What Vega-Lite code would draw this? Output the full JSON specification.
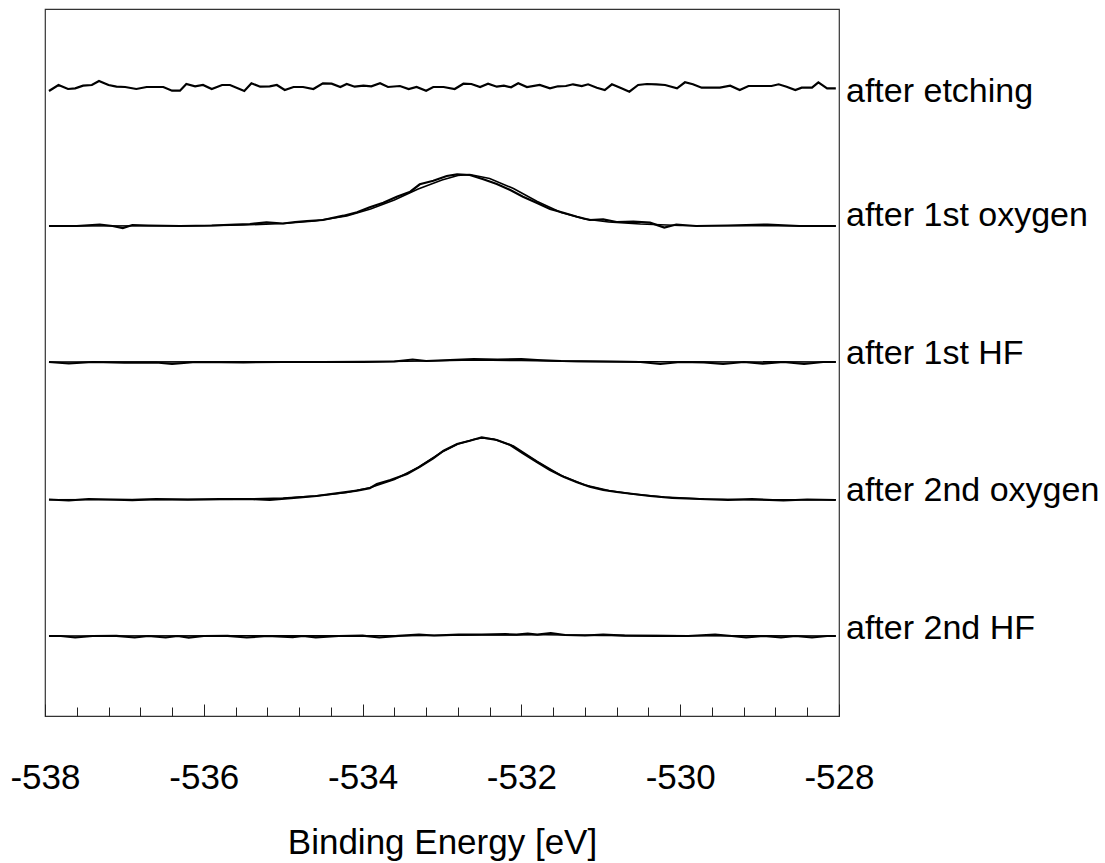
{
  "$schema": "https://vega.github.io/schema/vega-lite/v6.json",
  "width": 794,
  "height": 707,
  "autosize": {"type": "none"},
  "padding": {"left": 45, "top": 9, "right": 266, "bottom": 147},
  "background": "#ffffff",
  "config": {"view": {"stroke": "#333333", "strokeWidth": 1.2}, "font": "Liberation Sans"},
  "datasets": {
    "traces": [
      {"sample":"after etching","kind":"data","energy":-537.95,"intensity":625},
      {"sample":"after etching","kind":"data","energy":-537.83,"intensity":631},
      {"sample":"after etching","kind":"data","energy":-537.71,"intensity":627},
      {"sample":"after etching","kind":"data","energy":-537.62,"intensity":627.7},
      {"sample":"after etching","kind":"data","energy":-537.52,"intensity":630.3},
      {"sample":"after etching","kind":"data","energy":-537.41,"intensity":631},
      {"sample":"after etching","kind":"data","energy":-537.32,"intensity":635},
      {"sample":"after etching","kind":"data","energy":-537.2,"intensity":631},
      {"sample":"after etching","kind":"data","energy":-537.1,"intensity":629.3},
      {"sample":"after etching","kind":"data","energy":-536.99,"intensity":629},
      {"sample":"after etching","kind":"data","energy":-536.85,"intensity":627},
      {"sample":"after etching","kind":"data","energy":-536.72,"intensity":629},
      {"sample":"after etching","kind":"data","energy":-536.51,"intensity":629},
      {"sample":"after etching","kind":"data","energy":-536.4,"intensity":625.3},
      {"sample":"after etching","kind":"data","energy":-536.3,"intensity":625.3},
      {"sample":"after etching","kind":"data","energy":-536.22,"intensity":632},
      {"sample":"after etching","kind":"data","energy":-536.11,"intensity":629.7},
      {"sample":"after etching","kind":"data","energy":-536.01,"intensity":631},
      {"sample":"after etching","kind":"data","energy":-535.9,"intensity":627},
      {"sample":"after etching","kind":"data","energy":-535.77,"intensity":631},
      {"sample":"after etching","kind":"data","energy":-535.67,"intensity":631},
      {"sample":"after etching","kind":"data","energy":-535.49,"intensity":625},
      {"sample":"after etching","kind":"data","energy":-535.4,"intensity":632.7},
      {"sample":"after etching","kind":"data","energy":-535.29,"intensity":629.3},
      {"sample":"after etching","kind":"data","energy":-535.17,"intensity":629.7},
      {"sample":"after etching","kind":"data","energy":-535.08,"intensity":631},
      {"sample":"after etching","kind":"data","energy":-534.98,"intensity":626},
      {"sample":"after etching","kind":"data","energy":-534.87,"intensity":629},
      {"sample":"after etching","kind":"data","energy":-534.75,"intensity":629},
      {"sample":"after etching","kind":"data","energy":-534.62,"intensity":627},
      {"sample":"after etching","kind":"data","energy":-534.5,"intensity":632.7},
      {"sample":"after etching","kind":"data","energy":-534.39,"intensity":632.3},
      {"sample":"after etching","kind":"data","energy":-534.28,"intensity":629},
      {"sample":"after etching","kind":"data","energy":-534.2,"intensity":632},
      {"sample":"after etching","kind":"data","energy":-534.1,"intensity":629.3},
      {"sample":"after etching","kind":"data","energy":-533.99,"intensity":630.3},
      {"sample":"after etching","kind":"data","energy":-533.89,"intensity":629.7},
      {"sample":"after etching","kind":"data","energy":-533.78,"intensity":632.7},
      {"sample":"after etching","kind":"data","energy":-533.68,"intensity":629},
      {"sample":"after etching","kind":"data","energy":-533.53,"intensity":630},
      {"sample":"after etching","kind":"data","energy":-533.42,"intensity":627},
      {"sample":"after etching","kind":"data","energy":-533.32,"intensity":629},
      {"sample":"after etching","kind":"data","energy":-533.2,"intensity":625.3},
      {"sample":"after etching","kind":"data","energy":-533.11,"intensity":629},
      {"sample":"after etching","kind":"data","energy":-532.98,"intensity":629},
      {"sample":"after etching","kind":"data","energy":-532.84,"intensity":627},
      {"sample":"after etching","kind":"data","energy":-532.73,"intensity":632.3},
      {"sample":"after etching","kind":"data","energy":-532.63,"intensity":632},
      {"sample":"after etching","kind":"data","energy":-532.52,"intensity":629},
      {"sample":"after etching","kind":"data","energy":-532.42,"intensity":632.3},
      {"sample":"after etching","kind":"data","energy":-532.31,"intensity":629.3},
      {"sample":"after etching","kind":"data","energy":-532.22,"intensity":630.3},
      {"sample":"after etching","kind":"data","energy":-532.13,"intensity":628.7},
      {"sample":"after etching","kind":"data","energy":-532.04,"intensity":632.7},
      {"sample":"after etching","kind":"data","energy":-531.93,"intensity":629},
      {"sample":"after etching","kind":"data","energy":-531.77,"intensity":631},
      {"sample":"after etching","kind":"data","energy":-531.64,"intensity":627.7},
      {"sample":"after etching","kind":"data","energy":-531.54,"intensity":629.7},
      {"sample":"after etching","kind":"data","energy":-531.44,"intensity":630},
      {"sample":"after etching","kind":"data","energy":-531.35,"intensity":631.7},
      {"sample":"after etching","kind":"data","energy":-531.24,"intensity":630},
      {"sample":"after etching","kind":"data","energy":-531.16,"intensity":631.7},
      {"sample":"after etching","kind":"data","energy":-531.05,"intensity":628.3},
      {"sample":"after etching","kind":"data","energy":-530.95,"intensity":626},
      {"sample":"after etching","kind":"data","energy":-530.86,"intensity":631.7},
      {"sample":"after etching","kind":"data","energy":-530.74,"intensity":627.7},
      {"sample":"after etching","kind":"data","energy":-530.64,"intensity":624.3},
      {"sample":"after etching","kind":"data","energy":-530.53,"intensity":631},
      {"sample":"after etching","kind":"data","energy":-530.42,"intensity":632},
      {"sample":"after etching","kind":"data","energy":-530.3,"intensity":631.7},
      {"sample":"after etching","kind":"data","energy":-530.19,"intensity":631},
      {"sample":"after etching","kind":"data","energy":-530.04,"intensity":627.7},
      {"sample":"after etching","kind":"data","energy":-529.94,"intensity":633.7},
      {"sample":"after etching","kind":"data","energy":-529.84,"intensity":631.7},
      {"sample":"after etching","kind":"data","energy":-529.73,"intensity":628.3},
      {"sample":"after etching","kind":"data","energy":-529.5,"intensity":628.3},
      {"sample":"after etching","kind":"data","energy":-529.37,"intensity":630.3},
      {"sample":"after etching","kind":"data","energy":-529.25,"intensity":626},
      {"sample":"after etching","kind":"data","energy":-529.14,"intensity":630},
      {"sample":"after etching","kind":"data","energy":-528.85,"intensity":630},
      {"sample":"after etching","kind":"data","energy":-528.76,"intensity":631.7},
      {"sample":"after etching","kind":"data","energy":-528.66,"intensity":629.3},
      {"sample":"after etching","kind":"data","energy":-528.55,"intensity":626},
      {"sample":"after etching","kind":"data","energy":-528.47,"intensity":628.3},
      {"sample":"after etching","kind":"data","energy":-528.34,"intensity":628.3},
      {"sample":"after etching","kind":"data","energy":-528.26,"intensity":633.7},
      {"sample":"after etching","kind":"data","energy":-528.15,"intensity":627.7},
      {"sample":"after etching","kind":"data","energy":-528.04,"intensity":627.7},

      {"sample":"after 1st oxygen","kind":"data","energy":-537.95,"intensity":490},
      {"sample":"after 1st oxygen","kind":"data","energy":-537.6,"intensity":490},
      {"sample":"after 1st oxygen","kind":"data","energy":-537.31,"intensity":491.5},
      {"sample":"after 1st oxygen","kind":"data","energy":-537.15,"intensity":490},
      {"sample":"after 1st oxygen","kind":"data","energy":-537.02,"intensity":488},
      {"sample":"after 1st oxygen","kind":"data","energy":-536.9,"intensity":491},
      {"sample":"after 1st oxygen","kind":"data","energy":-536.7,"intensity":490.5},
      {"sample":"after 1st oxygen","kind":"data","energy":-536.3,"intensity":490},
      {"sample":"after 1st oxygen","kind":"data","energy":-535.9,"intensity":490.5},
      {"sample":"after 1st oxygen","kind":"data","energy":-535.6,"intensity":491.5},
      {"sample":"after 1st oxygen","kind":"data","energy":-535.42,"intensity":492},
      {"sample":"after 1st oxygen","kind":"data","energy":-535.21,"intensity":493.7},
      {"sample":"after 1st oxygen","kind":"data","energy":-535.0,"intensity":492.5},
      {"sample":"after 1st oxygen","kind":"data","energy":-534.85,"intensity":494},
      {"sample":"after 1st oxygen","kind":"data","energy":-534.7,"intensity":495},
      {"sample":"after 1st oxygen","kind":"data","energy":-534.5,"intensity":496},
      {"sample":"after 1st oxygen","kind":"data","energy":-534.24,"intensity":500.3},
      {"sample":"after 1st oxygen","kind":"data","energy":-534.07,"intensity":503.7},
      {"sample":"after 1st oxygen","kind":"data","energy":-533.91,"intensity":508.7},
      {"sample":"after 1st oxygen","kind":"data","energy":-533.74,"intensity":513.3},
      {"sample":"after 1st oxygen","kind":"data","energy":-533.57,"intensity":519.3},
      {"sample":"after 1st oxygen","kind":"data","energy":-533.4,"intensity":524.3},
      {"sample":"after 1st oxygen","kind":"data","energy":-533.28,"intensity":531.7},
      {"sample":"after 1st oxygen","kind":"data","energy":-533.11,"intensity":535.3},
      {"sample":"after 1st oxygen","kind":"data","energy":-532.94,"intensity":540},
      {"sample":"after 1st oxygen","kind":"data","energy":-532.81,"intensity":541.7},
      {"sample":"after 1st oxygen","kind":"data","energy":-532.65,"intensity":541},
      {"sample":"after 1st oxygen","kind":"data","energy":-532.48,"intensity":536.7},
      {"sample":"after 1st oxygen","kind":"data","energy":-532.31,"intensity":532},
      {"sample":"after 1st oxygen","kind":"data","energy":-532.14,"intensity":526},
      {"sample":"after 1st oxygen","kind":"data","energy":-531.98,"intensity":519.3},
      {"sample":"after 1st oxygen","kind":"data","energy":-531.81,"intensity":513.3},
      {"sample":"after 1st oxygen","kind":"data","energy":-531.64,"intensity":507},
      {"sample":"after 1st oxygen","kind":"data","energy":-531.47,"intensity":503.3},
      {"sample":"after 1st oxygen","kind":"data","energy":-531.3,"intensity":499.3},
      {"sample":"after 1st oxygen","kind":"data","energy":-531.14,"intensity":496},
      {"sample":"after 1st oxygen","kind":"data","energy":-530.97,"intensity":496.7},
      {"sample":"after 1st oxygen","kind":"data","energy":-530.8,"intensity":494},
      {"sample":"after 1st oxygen","kind":"data","energy":-530.59,"intensity":494.3},
      {"sample":"after 1st oxygen","kind":"data","energy":-530.38,"intensity":493.3},
      {"sample":"after 1st oxygen","kind":"data","energy":-530.2,"intensity":488.5},
      {"sample":"after 1st oxygen","kind":"data","energy":-530.05,"intensity":491.5},
      {"sample":"after 1st oxygen","kind":"data","energy":-529.8,"intensity":490},
      {"sample":"after 1st oxygen","kind":"data","energy":-529.4,"intensity":490.5},
      {"sample":"after 1st oxygen","kind":"data","energy":-528.9,"intensity":491.5},
      {"sample":"after 1st oxygen","kind":"data","energy":-528.5,"intensity":490},
      {"sample":"after 1st oxygen","kind":"data","energy":-528.04,"intensity":490},
      {"sample":"after 1st oxygen","kind":"fit","energy":-537.95,"intensity":490},
      {"sample":"after 1st oxygen","kind":"fit","energy":-536.0,"intensity":490.3},
      {"sample":"after 1st oxygen","kind":"fit","energy":-535.5,"intensity":491},
      {"sample":"after 1st oxygen","kind":"fit","energy":-535.0,"intensity":492.5},
      {"sample":"after 1st oxygen","kind":"fit","energy":-534.6,"intensity":495},
      {"sample":"after 1st oxygen","kind":"fit","energy":-534.2,"intensity":500},
      {"sample":"after 1st oxygen","kind":"fit","energy":-533.9,"intensity":507},
      {"sample":"after 1st oxygen","kind":"fit","energy":-533.6,"intensity":516},
      {"sample":"after 1st oxygen","kind":"fit","energy":-533.3,"intensity":527},
      {"sample":"after 1st oxygen","kind":"fit","energy":-533.0,"intensity":536},
      {"sample":"after 1st oxygen","kind":"fit","energy":-532.8,"intensity":540.5},
      {"sample":"after 1st oxygen","kind":"fit","energy":-532.65,"intensity":541.5},
      {"sample":"after 1st oxygen","kind":"fit","energy":-532.4,"intensity":537.5},
      {"sample":"after 1st oxygen","kind":"fit","energy":-532.1,"intensity":527.5},
      {"sample":"after 1st oxygen","kind":"fit","energy":-531.8,"intensity":514.5},
      {"sample":"after 1st oxygen","kind":"fit","energy":-531.5,"intensity":503.5},
      {"sample":"after 1st oxygen","kind":"fit","energy":-531.2,"intensity":497},
      {"sample":"after 1st oxygen","kind":"fit","energy":-530.9,"intensity":494},
      {"sample":"after 1st oxygen","kind":"fit","energy":-530.5,"intensity":492},
      {"sample":"after 1st oxygen","kind":"fit","energy":-530.0,"intensity":490.5},
      {"sample":"after 1st oxygen","kind":"fit","energy":-528.04,"intensity":490},

      {"sample":"after 1st HF","kind":"data","energy":-537.95,"intensity":354},
      {"sample":"after 1st HF","kind":"data","energy":-537.7,"intensity":352.5},
      {"sample":"after 1st HF","kind":"data","energy":-537.4,"intensity":354},
      {"sample":"after 1st HF","kind":"data","energy":-537.0,"intensity":353.3},
      {"sample":"after 1st HF","kind":"data","energy":-536.6,"intensity":353.5},
      {"sample":"after 1st HF","kind":"data","energy":-536.4,"intensity":352},
      {"sample":"after 1st HF","kind":"data","energy":-536.1,"intensity":354},
      {"sample":"after 1st HF","kind":"data","energy":-535.5,"intensity":353.7},
      {"sample":"after 1st HF","kind":"data","energy":-535.0,"intensity":354},
      {"sample":"after 1st HF","kind":"data","energy":-534.5,"intensity":354},
      {"sample":"after 1st HF","kind":"data","energy":-534.0,"intensity":354.2},
      {"sample":"after 1st HF","kind":"data","energy":-533.6,"intensity":354.5},
      {"sample":"after 1st HF","kind":"data","energy":-533.37,"intensity":356.5},
      {"sample":"after 1st HF","kind":"data","energy":-533.2,"intensity":355},
      {"sample":"after 1st HF","kind":"data","energy":-532.9,"intensity":356},
      {"sample":"after 1st HF","kind":"data","energy":-532.6,"intensity":357},
      {"sample":"after 1st HF","kind":"data","energy":-532.3,"intensity":356.5},
      {"sample":"after 1st HF","kind":"data","energy":-532.0,"intensity":357},
      {"sample":"after 1st HF","kind":"data","energy":-531.8,"intensity":356},
      {"sample":"after 1st HF","kind":"data","energy":-531.5,"intensity":355},
      {"sample":"after 1st HF","kind":"data","energy":-531.0,"intensity":354.5},
      {"sample":"after 1st HF","kind":"data","energy":-530.5,"intensity":354},
      {"sample":"after 1st HF","kind":"data","energy":-530.25,"intensity":352},
      {"sample":"after 1st HF","kind":"data","energy":-530.0,"intensity":354},
      {"sample":"after 1st HF","kind":"data","energy":-529.7,"intensity":353.7},
      {"sample":"after 1st HF","kind":"data","energy":-529.46,"intensity":352},
      {"sample":"after 1st HF","kind":"data","energy":-529.2,"intensity":354},
      {"sample":"after 1st HF","kind":"data","energy":-528.96,"intensity":352.3},
      {"sample":"after 1st HF","kind":"data","energy":-528.7,"intensity":354},
      {"sample":"after 1st HF","kind":"data","energy":-528.44,"intensity":352},
      {"sample":"after 1st HF","kind":"data","energy":-528.2,"intensity":354},
      {"sample":"after 1st HF","kind":"data","energy":-528.04,"intensity":354},
      {"sample":"after 1st HF","kind":"fit","energy":-537.95,"intensity":354},
      {"sample":"after 1st HF","kind":"fit","energy":-534.0,"intensity":354.2},
      {"sample":"after 1st HF","kind":"fit","energy":-533.2,"intensity":355},
      {"sample":"after 1st HF","kind":"fit","energy":-532.6,"intensity":356},
      {"sample":"after 1st HF","kind":"fit","energy":-532.0,"intensity":355.5},
      {"sample":"after 1st HF","kind":"fit","energy":-531.3,"intensity":354.6},
      {"sample":"after 1st HF","kind":"fit","energy":-530.5,"intensity":354.2},
      {"sample":"after 1st HF","kind":"fit","energy":-528.04,"intensity":354},

      {"sample":"after 2nd oxygen","kind":"data","energy":-537.95,"intensity":216.5},
      {"sample":"after 2nd oxygen","kind":"data","energy":-537.7,"intensity":215.5},
      {"sample":"after 2nd oxygen","kind":"data","energy":-537.45,"intensity":217},
      {"sample":"after 2nd oxygen","kind":"data","energy":-537.2,"intensity":216.5},
      {"sample":"after 2nd oxygen","kind":"data","energy":-536.9,"intensity":215.8},
      {"sample":"after 2nd oxygen","kind":"data","energy":-536.6,"intensity":216.8},
      {"sample":"after 2nd oxygen","kind":"data","energy":-536.2,"intensity":216.3},
      {"sample":"after 2nd oxygen","kind":"data","energy":-535.8,"intensity":216.8},
      {"sample":"after 2nd oxygen","kind":"data","energy":-535.42,"intensity":217},
      {"sample":"after 2nd oxygen","kind":"data","energy":-535.17,"intensity":216},
      {"sample":"after 2nd oxygen","kind":"data","energy":-534.79,"intensity":218.7},
      {"sample":"after 2nd oxygen","kind":"data","energy":-534.58,"intensity":220},
      {"sample":"after 2nd oxygen","kind":"data","energy":-534.33,"intensity":222.7},
      {"sample":"after 2nd oxygen","kind":"data","energy":-534.07,"intensity":225.3},
      {"sample":"after 2nd oxygen","kind":"data","energy":-533.91,"intensity":227.7},
      {"sample":"after 2nd oxygen","kind":"data","energy":-533.82,"intensity":232},
      {"sample":"after 2nd oxygen","kind":"data","energy":-533.65,"intensity":236},
      {"sample":"after 2nd oxygen","kind":"data","energy":-533.44,"intensity":242},
      {"sample":"after 2nd oxygen","kind":"data","energy":-533.28,"intensity":249.3},
      {"sample":"after 2nd oxygen","kind":"data","energy":-533.11,"intensity":257.7},
      {"sample":"after 2nd oxygen","kind":"data","energy":-532.98,"intensity":265.3},
      {"sample":"after 2nd oxygen","kind":"data","energy":-532.81,"intensity":272},
      {"sample":"after 2nd oxygen","kind":"data","energy":-532.65,"intensity":275.3},
      {"sample":"after 2nd oxygen","kind":"data","energy":-532.5,"intensity":278.7},
      {"sample":"after 2nd oxygen","kind":"data","energy":-532.31,"intensity":276},
      {"sample":"after 2nd oxygen","kind":"data","energy":-532.14,"intensity":271},
      {"sample":"after 2nd oxygen","kind":"data","energy":-531.98,"intensity":262.7},
      {"sample":"after 2nd oxygen","kind":"data","energy":-531.81,"intensity":254.3},
      {"sample":"after 2nd oxygen","kind":"data","energy":-531.64,"intensity":246},
      {"sample":"after 2nd oxygen","kind":"data","energy":-531.47,"intensity":239.3},
      {"sample":"after 2nd oxygen","kind":"data","energy":-531.3,"intensity":233.7},
      {"sample":"after 2nd oxygen","kind":"data","energy":-531.14,"intensity":229.3},
      {"sample":"after 2nd oxygen","kind":"data","energy":-530.97,"intensity":226},
      {"sample":"after 2nd oxygen","kind":"data","energy":-530.8,"intensity":224},
      {"sample":"after 2nd oxygen","kind":"data","energy":-530.59,"intensity":222},
      {"sample":"after 2nd oxygen","kind":"data","energy":-530.38,"intensity":220},
      {"sample":"after 2nd oxygen","kind":"data","energy":-530.1,"intensity":218},
      {"sample":"after 2nd oxygen","kind":"data","energy":-529.75,"intensity":217},
      {"sample":"after 2nd oxygen","kind":"data","energy":-529.4,"intensity":216},
      {"sample":"after 2nd oxygen","kind":"data","energy":-529.1,"intensity":216.8},
      {"sample":"after 2nd oxygen","kind":"data","energy":-528.7,"intensity":215.5},
      {"sample":"after 2nd oxygen","kind":"data","energy":-528.4,"intensity":216.5},
      {"sample":"after 2nd oxygen","kind":"data","energy":-528.04,"intensity":216},
      {"sample":"after 2nd oxygen","kind":"fit","energy":-537.95,"intensity":216.3},
      {"sample":"after 2nd oxygen","kind":"fit","energy":-535.5,"intensity":216.8},
      {"sample":"after 2nd oxygen","kind":"fit","energy":-535.0,"intensity":218},
      {"sample":"after 2nd oxygen","kind":"fit","energy":-534.6,"intensity":220},
      {"sample":"after 2nd oxygen","kind":"fit","energy":-534.2,"intensity":223.5},
      {"sample":"after 2nd oxygen","kind":"fit","energy":-533.9,"intensity":228.5},
      {"sample":"after 2nd oxygen","kind":"fit","energy":-533.6,"intensity":236.5},
      {"sample":"after 2nd oxygen","kind":"fit","energy":-533.3,"intensity":248.5},
      {"sample":"after 2nd oxygen","kind":"fit","energy":-533.0,"intensity":264},
      {"sample":"after 2nd oxygen","kind":"fit","energy":-532.8,"intensity":272},
      {"sample":"after 2nd oxygen","kind":"fit","energy":-532.6,"intensity":276.5},
      {"sample":"after 2nd oxygen","kind":"fit","energy":-532.5,"intensity":278},
      {"sample":"after 2nd oxygen","kind":"fit","energy":-532.35,"intensity":277},
      {"sample":"after 2nd oxygen","kind":"fit","energy":-532.1,"intensity":270},
      {"sample":"after 2nd oxygen","kind":"fit","energy":-531.8,"intensity":254.5},
      {"sample":"after 2nd oxygen","kind":"fit","energy":-531.5,"intensity":240.5},
      {"sample":"after 2nd oxygen","kind":"fit","energy":-531.2,"intensity":231},
      {"sample":"after 2nd oxygen","kind":"fit","energy":-530.9,"intensity":225.5},
      {"sample":"after 2nd oxygen","kind":"fit","energy":-530.6,"intensity":222},
      {"sample":"after 2nd oxygen","kind":"fit","energy":-530.2,"intensity":219},
      {"sample":"after 2nd oxygen","kind":"fit","energy":-529.7,"intensity":217},
      {"sample":"after 2nd oxygen","kind":"fit","energy":-529.0,"intensity":216.3},
      {"sample":"after 2nd oxygen","kind":"fit","energy":-528.04,"intensity":216.2},

      {"sample":"after 2nd HF","kind":"data","energy":-537.95,"intensity":80},
      {"sample":"after 2nd HF","kind":"data","energy":-537.8,"intensity":80},
      {"sample":"after 2nd HF","kind":"data","energy":-537.62,"intensity":78.5},
      {"sample":"after 2nd HF","kind":"data","energy":-537.4,"intensity":80},
      {"sample":"after 2nd HF","kind":"data","energy":-537.1,"intensity":80.2},
      {"sample":"after 2nd HF","kind":"data","energy":-536.87,"intensity":78.5},
      {"sample":"after 2nd HF","kind":"data","energy":-536.7,"intensity":80},
      {"sample":"after 2nd HF","kind":"data","energy":-536.48,"intensity":78.5},
      {"sample":"after 2nd HF","kind":"data","energy":-536.33,"intensity":80},
      {"sample":"after 2nd HF","kind":"data","energy":-536.19,"intensity":78.3},
      {"sample":"after 2nd HF","kind":"data","energy":-536.0,"intensity":80},
      {"sample":"after 2nd HF","kind":"data","energy":-535.7,"intensity":80.2},
      {"sample":"after 2nd HF","kind":"data","energy":-535.46,"intensity":78.5},
      {"sample":"after 2nd HF","kind":"data","energy":-535.2,"intensity":80},
      {"sample":"after 2nd HF","kind":"data","energy":-534.88,"intensity":78.8},
      {"sample":"after 2nd HF","kind":"data","energy":-534.75,"intensity":80},
      {"sample":"after 2nd HF","kind":"data","energy":-534.59,"intensity":78.7},
      {"sample":"after 2nd HF","kind":"data","energy":-534.3,"intensity":80},
      {"sample":"after 2nd HF","kind":"data","energy":-534.0,"intensity":80.3},
      {"sample":"after 2nd HF","kind":"data","energy":-533.79,"intensity":78.5},
      {"sample":"after 2nd HF","kind":"data","energy":-533.55,"intensity":80.2},
      {"sample":"after 2nd HF","kind":"data","energy":-533.29,"intensity":81.5},
      {"sample":"after 2nd HF","kind":"data","energy":-533.1,"intensity":80.5},
      {"sample":"after 2nd HF","kind":"data","energy":-532.79,"intensity":81.3},
      {"sample":"after 2nd HF","kind":"data","energy":-532.5,"intensity":81.5},
      {"sample":"after 2nd HF","kind":"data","energy":-532.2,"intensity":81.8},
      {"sample":"after 2nd HF","kind":"data","energy":-532.06,"intensity":81.3},
      {"sample":"after 2nd HF","kind":"data","energy":-531.92,"intensity":82.5},
      {"sample":"after 2nd HF","kind":"data","energy":-531.8,"intensity":81.3},
      {"sample":"after 2nd HF","kind":"data","energy":-531.63,"intensity":83},
      {"sample":"after 2nd HF","kind":"data","energy":-531.45,"intensity":81},
      {"sample":"after 2nd HF","kind":"data","energy":-531.2,"intensity":80.5},
      {"sample":"after 2nd HF","kind":"data","energy":-530.97,"intensity":81.5},
      {"sample":"after 2nd HF","kind":"data","energy":-530.7,"intensity":80.3},
      {"sample":"after 2nd HF","kind":"data","energy":-530.3,"intensity":80.2},
      {"sample":"after 2nd HF","kind":"data","energy":-529.9,"intensity":80},
      {"sample":"after 2nd HF","kind":"data","energy":-529.56,"intensity":81.5},
      {"sample":"after 2nd HF","kind":"data","energy":-529.35,"intensity":80},
      {"sample":"after 2nd HF","kind":"data","energy":-529.17,"intensity":78.5},
      {"sample":"after 2nd HF","kind":"data","energy":-528.95,"intensity":80},
      {"sample":"after 2nd HF","kind":"data","energy":-528.73,"intensity":78.5},
      {"sample":"after 2nd HF","kind":"data","energy":-528.55,"intensity":80},
      {"sample":"after 2nd HF","kind":"data","energy":-528.34,"intensity":78.5},
      {"sample":"after 2nd HF","kind":"data","energy":-528.15,"intensity":80},
      {"sample":"after 2nd HF","kind":"data","energy":-528.04,"intensity":80},
      {"sample":"after 2nd HF","kind":"fit","energy":-537.95,"intensity":80},
      {"sample":"after 2nd HF","kind":"fit","energy":-533.5,"intensity":80.3},
      {"sample":"after 2nd HF","kind":"fit","energy":-532.5,"intensity":81},
      {"sample":"after 2nd HF","kind":"fit","energy":-531.7,"intensity":81.3},
      {"sample":"after 2nd HF","kind":"fit","energy":-531.0,"intensity":80.6},
      {"sample":"after 2nd HF","kind":"fit","energy":-530.0,"intensity":80.2},
      {"sample":"after 2nd HF","kind":"fit","energy":-528.04,"intensity":80}
    ],
    "labels": [
      {"sample":"after etching","energy":-528,"intensity":614},
      {"sample":"after 1st oxygen","energy":-528,"intensity":490},
      {"sample":"after 1st HF","energy":-528,"intensity":352.5},
      {"sample":"after 2nd oxygen","energy":-528,"intensity":215.5},
      {"sample":"after 2nd HF","energy":-528,"intensity":77.5}
    ]
  },
  "layer": [
    {
      "data": {"name": "traces"},
      "transform": [{"filter": "datum.kind == 'data'"}],
      "mark": {"type": "line", "color": "#000000", "strokeWidth": 2.2, "clip": true},
      "encoding": {
        "x": {
          "field": "energy", "type": "quantitative",
          "scale": {"domain": [-538, -528], "nice": false, "zero": false},
          "axis": {
            "values": [-538, -537.6, -537.2, -536.8, -536.4, -536, -535.6, -535.2, -534.8, -534.4, -534, -533.6, -533.2, -532.8, -532.4, -532, -531.6, -531.2, -530.8, -530.4, -530, -529.6, -529.2, -528.8, -528.4, -528],
            "tickCount": 200,
            "domain": false,
            "grid": false,
            "ticks": true,
            "tickSize": {"condition": {"test": "datum.value % 2 == 0", "value": -12}, "value": -9},
            "tickColor": "#222222",
            "tickWidth": 1,
            "labelExpr": "datum.value % 2 == 0 ? toString(datum.value) : ''",
            "labelFont": "Liberation Sans",
            "labelFontSize": 35,
            "labelColor": "#000000",
            "labelPadding": 56,
            "labelFlush": false,
            "labelOverlap": false,
            "title": "Binding Energy [eV]",
            "titleFont": "Liberation Sans",
            "titleFontSize": 35,
            "titleFontWeight": "normal",
            "titleColor": "#000000",
            "titlePadding": 27
          }
        },
        "y": {
          "field": "intensity", "type": "quantitative",
          "scale": {"domain": [0, 707], "nice": false, "zero": false},
          "axis": null
        },
        "detail": {"field": "sample"}
      }
    },
    {
      "data": {"name": "traces"},
      "transform": [{"filter": "datum.kind == 'fit'"}],
      "mark": {"type": "line", "color": "#000000", "strokeWidth": 1.6, "clip": true},
      "encoding": {
        "x": {"field": "energy", "type": "quantitative"},
        "y": {"field": "intensity", "type": "quantitative"},
        "detail": {"field": "sample"}
      }
    },
    {
      "data": {"name": "labels"},
      "mark": {"type": "text", "align": "left", "baseline": "alphabetic", "dx": 7, "font": "Liberation Sans", "fontSize": 34, "color": "#000000"},
      "encoding": {
        "x": {"field": "energy", "type": "quantitative"},
        "y": {"field": "intensity", "type": "quantitative"},
        "text": {"field": "sample"}
      }
    }
  ]
}
